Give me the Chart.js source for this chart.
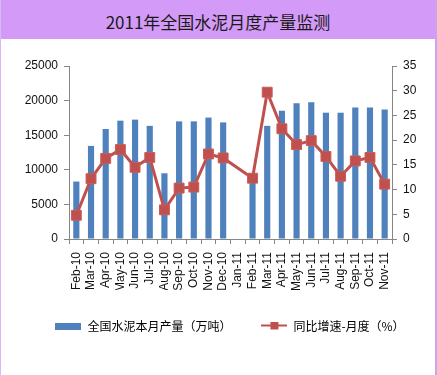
<!DOCTYPE html>
<html>
<head>
<meta charset="utf-8">
<script src="https://cdn.jsdelivr.net/npm/chart.js@4/dist/chart.umd.min.js"></script>
<style>
    body { margin: 0; background: #fff; }
    #wrap {
        width: 437px; height: 375px; box-sizing: border-box;
        border-left: 1px solid #d9b8f5; border-right: 2px solid #c9a3ee;
    }
    #head {
        height: 39px; background: #d49af7; text-align: center;
        font-family: "Noto Sans CJK SC", sans-serif; font-size: 17px;
        line-height: 44px; color: #1a1a1a;
    }
</style>
</head>
<body>
<div id="wrap">
    <div id="head">2011年全国水泥月度产量监测</div>
    <canvas id="chart" width="434" height="336"></canvas>
</div>
<script>
// months on the x axis (Jan-11 has no data)
const months = ['Feb-10', 'Mar-10', 'Apr-10', 'May-10', 'Jun-10', 'Jul-10', 'Aug-10', 'Sep-10',
    'Oct-10', 'Nov-10', 'Dec-10', 'Jan-11', 'Feb-11', 'Mar-11', 'Apr-11', 'May-11', 'Jun-11',
    'Jul-11', 'Aug-11', 'Sep-11', 'Oct-11', 'Nov-11'];

// monthly cement output, 10k tonnes (left axis)
const output = [8300, 13450, 15900, 17100, 17250, 16350, 9500, 17000, 17000, 17550, 16850,
    null, 8800, 16350, 18550, 19600, 19750, 18250, 18250, 19000, 19000, 18700];

// year-on-year growth, % (right axis)
const growth = [4.8, 12.2, 16.3, 18.1, 14.5, 16.5, 5.9, 10.3, 10.5, 17.2, 16.4,
    null, 12.3, 29.7, 22.3, 19.1, 19.9, 16.7, 12.7, 15.8, 16.5, 11.1];

const outputName = '全国水泥本月产量（万吨）';
const growthName = '同比增速-月度（%）';

const blue = '#4f81bd';
const red = '#c0504d';
const axisGray = '#868686';

// little pictures for the legend entries
function barIcon() {
    const c = document.createElement('canvas');
    c.width = 26; c.height = 7;
    const g = c.getContext('2d');
    g.fillStyle = blue;
    g.fillRect(0, 0, 26, 7);
    return c;
}

function lineIcon() {
    const c = document.createElement('canvas');
    c.width = 26; c.height = 9;
    const g = c.getContext('2d');
    g.fillStyle = red;
    g.fillRect(0, 3, 26, 2);
    g.fillRect(9, 0, 8, 8);
    return c;
}

const tickFont = { family: '"Liberation Sans", Arial, sans-serif', size: 12 };

const ctx = document.getElementById('chart').getContext('2d');
const myChart = new Chart(ctx, {
    type: 'bar',
    data: {
        labels: months,
        datasets: [{
            type: 'line',
            label: growthName,
            data: growth,
            yAxisID: 'y2',
            borderColor: red,
            backgroundColor: red,
            borderWidth: 3,
            pointStyle: 'rect',
            pointRadius: 7,
            pointBackgroundColor: red,
            pointBorderColor: '#c95c59',
            pointBorderWidth: 1,
            spanGaps: true,
            order: 0
        }, {
            type: 'bar',
            label: outputName,
            data: output,
            yAxisID: 'y',
            backgroundColor: blue,
            categoryPercentage: 1,
            barPercentage: 0.42,
            order: 1
        }]
    },
    options: {
        responsive: false,
        animation: false,
        layout: { padding: { top: 27, left: 24, right: 0, bottom: 33 } },
        plugins: {
            title: { display: false },
            tooltip: { enabled: false },
            legend: {
                position: 'bottom',
                labels: {
                    usePointStyle: true,
                    pointStyleWidth: 26,
                    padding: 30,
                    color: '#111',
                    font: { family: '"Noto Sans CJK SC", sans-serif', size: 12 },
                    generateLabels: function () {
                        return [
                            { text: outputName, pointStyle: barIcon(), datasetIndex: 1, lineWidth: 0, hidden: false },
                            { text: growthName, pointStyle: lineIcon(), datasetIndex: 0, lineWidth: 0, hidden: false }
                        ];
                    }
                }
            }
        },
        scales: {
            x: {
                grid: { display: true, drawOnChartArea: false, offset: true, tickLength: 5, color: axisGray },
                border: { color: axisGray },
                ticks: { minRotation: 90, maxRotation: 90, autoSkip: false, padding: 8, color: '#111', font: tickFont },
                afterFit: function (scale) { scale.height = 51; }
            },
            y: {
                position: 'left',
                min: 0, max: 25000,
                grid: { display: true, drawOnChartArea: false, tickLength: 5, color: axisGray },
                border: { color: axisGray },
                ticks: {
                    stepSize: 5000, padding: 6, color: '#111', font: tickFont,
                    callback: function (v) { return String(v); }
                },
                afterFit: function (scale) { scale.width = 44; }
            },
            y2: {
                position: 'right',
                min: 0, max: 35,
                grid: { display: true, drawOnChartArea: false, tickLength: 5, color: axisGray },
                border: { color: axisGray },
                ticks: { stepSize: 5, padding: 6, color: '#111', font: tickFont },
                afterFit: function (scale) { scale.width = 43; }
            }
        }
    }
});
</script>
</body>
</html>
